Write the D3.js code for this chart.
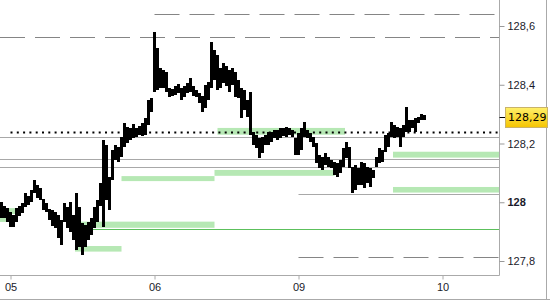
<!DOCTYPE html>
<html>
<head>
<meta charset="utf-8">
<script src="https://cdnjs.cloudflare.com/ajax/libs/d3/7.8.5/d3.min.js"></script>
<style>
body { margin: 0; background: #fff; }
svg { display: block; font-family: "DejaVu Sans", sans-serif; }
</style>
</head>
<body>
<div id="chart"></div>
<script>
//bar highs and lows, one bar per 30 minutes
var highs = [128.001,127.987,127.980,127.967,127.957,127.980,127.987,127.997,128.032,128.021,
	128.042,128.076,128.059,128.049,128.011,127.997,127.977,127.974,127.967,127.957,
	127.940,127.997,127.984,128.001,127.957,128.032,127.984,127.929,127.923,127.933,
	127.946,127.984,128.008,128.066,128.212,128.195,128.086,128.178,128.195,128.188,
	128.222,128.270,128.256,128.253,128.266,128.253,128.260,128.270,128.287,128.348,
	128.355,128.580,128.525,128.457,128.450,128.443,128.389,128.386,128.396,128.403,
	128.389,128.396,128.406,128.423,128.396,128.382,128.372,128.362,128.399,128.409,
	128.546,128.518,128.501,128.457,128.474,128.464,128.450,128.457,128.443,128.416,
	128.389,128.382,128.348,128.375,128.239,128.229,128.219,128.222,128.229,128.239,
	128.239,128.246,128.246,128.253,128.253,128.256,128.253,128.246,128.219,128.236,
	128.253,128.273,128.246,128.236,128.222,128.202,128.161,128.154,128.168,128.154,
	128.144,128.137,128.134,128.144,128.185,128.205,128.188,128.120,128.127,128.117,
	128.137,128.134,128.120,128.117,128.110,128.154,128.185,128.178,128.229,128.236,
	128.273,128.263,128.256,128.253,128.263,128.324,128.280,128.280,128.287,128.290,
	128.300,128.297];
var lows = [127.946,127.946,127.933,127.916,127.916,127.933,127.953,127.963,127.984,127.991,
	128.001,128.032,128.014,128.008,127.974,127.967,127.940,127.919,127.912,127.878,
	127.854,127.933,127.912,127.899,127.872,127.837,127.848,127.820,127.848,127.872,
	127.889,127.912,127.933,127.987,127.916,128.008,127.974,128.076,128.144,128.137,
	128.154,128.188,128.202,128.212,128.219,128.222,128.229,128.226,128.229,128.263,
	128.307,128.375,128.382,128.389,128.389,128.375,128.358,128.362,128.365,128.372,
	128.348,128.358,128.372,128.375,128.362,128.358,128.338,128.307,128.321,128.348,
	128.389,128.416,128.382,128.389,128.406,128.396,128.375,128.399,128.358,128.355,
	128.287,128.314,128.290,128.229,128.195,128.185,128.151,128.168,128.195,128.195,
	128.205,128.219,128.212,128.219,128.226,128.222,128.229,128.222,128.161,128.161,
	128.178,128.222,128.219,128.205,128.188,128.134,128.117,128.110,128.127,128.120,
	128.117,128.093,128.086,128.100,128.120,128.151,128.117,128.032,128.042,128.059,
	128.059,128.049,128.066,128.052,128.083,128.120,128.134,128.137,128.171,128.188,
	128.222,128.219,128.222,128.188,128.222,128.239,128.239,128.253,128.239,128.270,
	128.280,128.280];
var lastPrice = 128.29;

//time axis
var dayTicks = [3, 51, 99, 147],
	dayLabels = ["05", "06", "09", "10"];
var priceTicks = [127.8, 128, 128.2, 128.4, 128.6];

//horizontal levels
var levelPrices = [128.640, 128.562, 128.222, 128.147, 128.119, 128.028, 127.813, 127.909, 128.240],
	levelStarts = [51, -0.5, -0.5, -0.5, -0.5, 99, 99, 24.5, 3],
	levelKinds = ["dash", "dash", "solid", "solid", "solid", "solid", "dash", "green", "dot"];

//green zones
var zoneFrom = [72, 40, 71, 24.5, 24.5, 130.5, 130.5, -0.5, -0.5],
	zoneTo = [114.5, 71, 111, 71, 40, 166, 166, 5, 2],
	zoneTop = [128.253, 128.089, 128.110, 127.934, 127.851, 128.172, 128.052, 127.980, 127.953],
	zoneBottom = [128.230, 128.072, 128.090, 127.913, 127.832, 128.152, 128.033, 127.960, 127.933];

var width = 550,
	height = 300,
	plotRight = 499.5,
	plotBottom = 275.5;

var x = d3.scaleLinear()
	.domain([0, 166])
	.range([1.5, plotRight]);

var y = d3.scaleLinear()
	.domain([127.8, 128.6])
	.range([261, 26]);

var svg = d3.select("#chart")
	.append("svg")
		.attr("width", width)
		.attr("height", height);

var defs = svg.append("defs");
var grad = defs.append("linearGradient")
	.attr("id", "gold")
	.attr("x1", 0).attr("y1", 0).attr("x2", 0).attr("y2", 1);
grad.append("stop").attr("offset", "0%").attr("stop-color", "#fff06a");
grad.append("stop").attr("offset", "100%").attr("stop-color", "#f5c400");

//zones
svg.selectAll(".zone")
	.data(zoneFrom)
	.enter()
	.append("rect")
		.attr("class", "zone")
		.attr("x", function(d) { return Math.max(0, x(d)); })
		.attr("width", function(d, i) { return x(zoneTo[i]) - Math.max(0, x(d)); })
		.attr("y", function(d, i) { return y(zoneTop[i]); })
		.attr("height", function(d, i) { return y(zoneBottom[i]) - y(zoneTop[i]); })
		.style("fill", "#b6e8b4");

//levels
var levelStyle = {
	dash: { stroke: "#858585", width: 1.2, dash: "25,10" },
	solid: { stroke: "#a8a8a8", width: 1.2, dash: null },
	green: { stroke: "#5cc05c", width: 1.2, dash: null },
	dot: { stroke: "#000", width: 2, dash: "2,4.3" }
};
svg.selectAll(".level")
	.data(levelPrices)
	.enter()
	.append("line")
		.attr("class", "level")
		.attr("x1", function(d, i) { return Math.max(0, x(levelStarts[i])); })
		.attr("x2", plotRight)
		.attr("y1", function(d) { return Math.round(y(d)) + 0.5; })
		.attr("y2", function(d) { return Math.round(y(d)) + 0.5; })
		.style("stroke", function(d, i) { return levelStyle[levelKinds[i]].stroke; })
		.style("stroke-width", function(d, i) { return levelStyle[levelKinds[i]].width; })
		.style("stroke-dasharray", function(d, i) { return levelStyle[levelKinds[i]].dash; });

//bars
svg.selectAll(".bar")
	.data(highs)
	.enter()
	.append("rect")
		.attr("class", "bar")
		.attr("x", function(d, i) { return x(i) - 1.5; })
		.attr("width", 3)
		.attr("y", function(d) { return y(d); })
		.attr("height", function(d, i) { return Math.max(2, y(lows[i]) - y(d)); })
		.attr("shape-rendering", "crispEdges")
		.style("fill", "#000");

//axis frame
svg.append("line")
	.attr("x1", plotRight).attr("x2", plotRight)
	.attr("y1", 0).attr("y2", plotBottom)
	.style("stroke", "#aaa");
svg.append("line")
	.attr("x1", 0).attr("x2", plotRight)
	.attr("y1", plotBottom).attr("y2", plotBottom)
	.style("stroke", "#aaa");
svg.append("line")
	.attr("x1", 0).attr("x2", width)
	.attr("y1", 299.5).attr("y2", 299.5)
	.style("stroke", "#aaa");
svg.append("line")
	.attr("x1", 546.5).attr("x2", 546.5)
	.attr("y1", 0).attr("y2", height)
	.style("stroke", "#aaa");

//price axis
var yAxis = svg.append("g")
	.attr("transform", "translate(" + plotRight + ",0)")
	.call(d3.axisRight(y)
		.tickValues(priceTicks)
		.tickSize(5)
		.tickPadding(3)
		.tickFormat(function(d) { return String(d).replace(".", ","); }));
yAxis.select(".domain").remove();
yAxis.selectAll("line").style("stroke", "#999");
yAxis.selectAll("text")
	.style("font-size", "11px")
	.style("fill", "#1a1a2a")
	.style("font-weight", function(d) { return d === 128 ? "bold" : "normal"; });

//time axis
var xAxis = svg.append("g")
	.attr("transform", "translate(0," + plotBottom + ")")
	.call(d3.axisBottom(x)
		.tickValues(dayTicks)
		.tickSize(4)
		.tickPadding(3.5)
		.tickFormat(function(d, i) { return dayLabels[i]; }));
xAxis.select(".domain").remove();
xAxis.selectAll("line").style("stroke", "#aaa");
xAxis.selectAll("text")
	.style("font-size", "11px")
	.style("fill", "#1a1a2a");

//last price label
var py = Math.round(y(lastPrice)) + 0.5;
svg.append("line")
	.attr("x1", plotRight).attr("x2", 505)
	.attr("y1", py).attr("y2", py)
	.style("stroke", "#000");
svg.append("rect")
	.attr("x", 505.5).attr("y", py - 10)
	.attr("width", 42).attr("height", 20)
	.style("fill", "url(#gold)")
	.style("stroke", "#c9b36a");
svg.append("text")
	.attr("x", 508).attr("y", py)
	.attr("dy", "0.35em")
	.style("font-size", "11px")
	.style("fill", "#000")
	.text(String(lastPrice).replace(".", ","));
</script>
</body>
</html>
